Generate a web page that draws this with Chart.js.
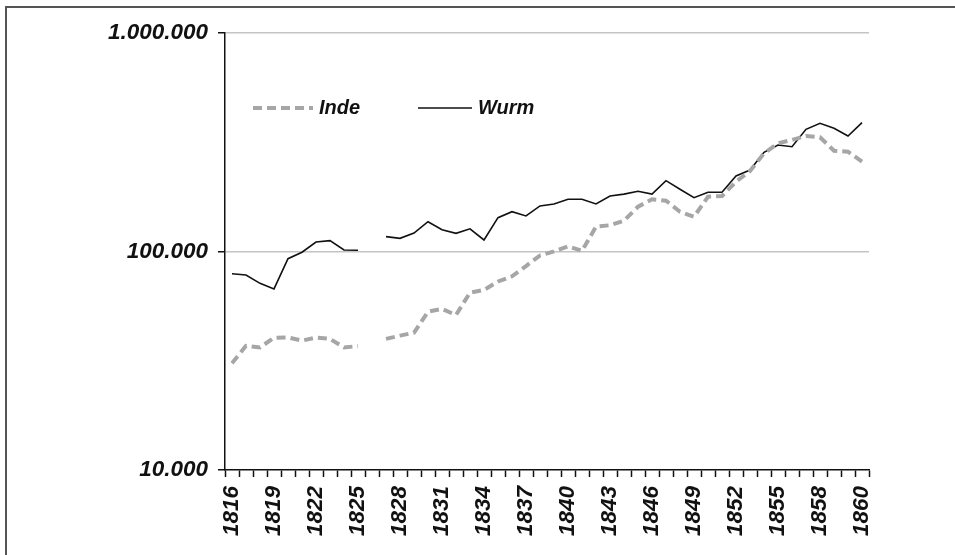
<!DOCTYPE html>
<html>
<head>
<meta charset="utf-8">
<script src="https://cdn.jsdelivr.net/npm/chart.js@4.4.1/dist/chart.umd.min.js"></script>
<style>
  html, body { margin: 0; padding: 0; background: #fff; }
  #wrap { position: relative; width: 955px; height: 555px; overflow: hidden; }
  #frame { position: absolute; left: 5px; top: 6px; width: 1000px; height: 600px;
           border-top: 2px solid #555; border-left: 2px solid #555; pointer-events: none; }
  canvas { position: absolute; left: 0; top: 0; }
</style>
</head>
<body>
<div id="wrap">
  <canvas id="c" width="955" height="555"></canvas>
  <div id="frame"></div>
</div>
<script>
// Categories (46 entries; the source axis shows every third label)
const categories = [
  "1816","1817","1818","1819","1820","1821","1822","1823","1824","1825",
  "1826","1827","1828","1829","1830","1831","1832","1833","1834","1835",
  "1836","1837","1838","1839","1840","1841","1842","1843","1844","1845",
  "1846","1847","1848","1849","1850","1851","1852","1853","1854","1855",
  "1856","1857","1858","1859","1859","1860"
];

const indeValues = [
  30800, 37000, 36400, 40300, 40400, 39100, 40400, 39800, 36400, 36900,
  null,  39800, 41200, 42500, 53000, 54600, 51200, 64800, 66700, 72900,
  77000, 85800, 95900, 100200, 105600, 100700, 129900, 131900, 138400, 160300,
  173300, 170800, 152100, 144300, 178200, 179500, 208700, 233500, 281500, 312800,
  323900, 337800, 333200, 289300, 286300, 257600
];

const wurmValues = [
  79100, 78000, 71500, 67400, 92700, 99200, 110500, 112100, 101600, 101300,
  null,  117000, 114900, 121500, 136900, 125800, 121100, 127000, 112900, 142800,
  152100, 145400, 161600, 165000, 173300, 173300, 165000, 179500, 183100, 188800,
  183100, 210900, 192600, 176300, 186600, 186600, 221600, 236000, 284400, 307200,
  301700, 362400, 386200, 366300, 337800, 388700
];

const yTicks = [10000, 100000, 1000000];
const seriesNames = ["Inde", "Wurm"];

const FONT = "'Liberation Sans', Arial, sans-serif";

function fmt(v) {
  return String(Math.round(v)).replace(/\B(?=(\d{3})+(?!\d))/g, '.');
}

const insideLegend = {
  id: 'insideLegend',
  afterDatasetsDraw(chart) {
    const ctx = chart.ctx;
    const items = [
      { ds: chart.data.datasets[0], x1: 253, x2: 313, tx: 319 },
      { ds: chart.data.datasets[1], x1: 418, x2: 472, tx: 478 }
    ];
    const y = 108;
    ctx.save();
    items.forEach(it => {
      ctx.beginPath();
      ctx.strokeStyle = it.ds.borderColor;
      ctx.lineWidth = it.ds.borderWidth;
      ctx.setLineDash(it.ds.borderDash || []);
      ctx.moveTo(it.x1, y);
      ctx.lineTo(it.x2, y);
      ctx.stroke();
      ctx.setLineDash([]);
      ctx.fillStyle = '#111';
      ctx.font = "italic bold 20px " + FONT;
      ctx.textBaseline = 'middle';
      ctx.textAlign = 'left';
      ctx.fillText(it.ds.label, it.tx, y);
    });
    ctx.restore();
  }
};

new Chart(document.getElementById('c'), {
  type: 'line',
  data: {
    labels: categories,
    datasets: [
      {
        label: seriesNames[0],
        data: indeValues,
        borderColor: '#a6a6a6',
        borderWidth: 4,
        borderDash: [9, 5],
        pointRadius: 0,
        tension: 0,
        spanGaps: false,
        fill: false
      },
      {
        label: seriesNames[1],
        data: wurmValues,
        borderColor: '#111111',
        borderWidth: 1.6,
        pointRadius: 0,
        tension: 0,
        spanGaps: false,
        fill: false
      }
    ]
  },
  options: {
    responsive: false,
    animation: false,
    devicePixelRatio: 1,
    layout: { padding: { left: 0, top: 33, right: 86, bottom: 0 } },
    plugins: {
      legend: { display: false },
      tooltip: { enabled: false }
    },
    scales: {
      x: {
        type: 'category',
        offset: true,
        grid: {
          offset: true,
          drawOnChartArea: false,
          drawTicks: true,
          tickLength: 7,
          tickColor: '#111',
          tickWidth: 1.5
        },
        border: { display: true, color: '#111', width: 1.5 },
        ticks: {
          autoSkip: false,
          maxRotation: 90,
          minRotation: 90,
          padding: 9,
          color: '#111',
          font: { family: FONT, size: 22.5, style: 'italic', weight: 'bold' },
          callback: function (val, idx) {
            return idx % 3 === 0 ? this.getLabelForValue(val) : '';
          }
        },
        afterFit(scale) { scale.height = 85; }
      },
      y: {
        type: 'logarithmic',
        min: 10000,
        max: 1000000,
        afterBuildTicks(scale) {
          scale.ticks = yTicks.map(v => ({ value: v }));
        },
        afterFit(scale) { scale.width = 225; },
        grid: {
          color: ctx => (ctx.tick && ctx.tick.value === 10000) ? 'rgba(0,0,0,0)' : '#c4c4c4',
          lineWidth: 1.5,
          drawTicks: true,
          tickLength: 7,
          tickColor: '#111',
          tickWidth: 1.5
        },
        border: { display: true, color: '#111', width: 1.5 },
        ticks: {
          padding: 10,
          color: '#111',
          font: { family: FONT, size: 22.5, style: 'italic', weight: 'bold' },
          callback: v => fmt(v)
        }
      }
    }
  },
  plugins: [insideLegend]
});
</script>
</body>
</html>
